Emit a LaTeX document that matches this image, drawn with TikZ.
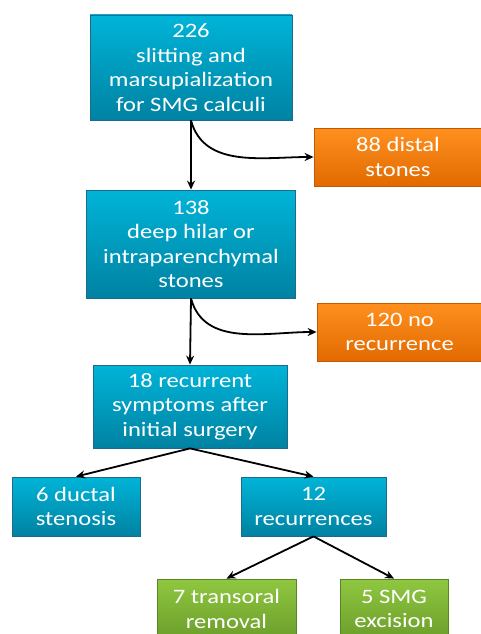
\documentclass[tikz,border=0pt]{standalone}
\usepackage{fontspec}
\setmainfont{Carlito}[FakeStretch=1.2]
\usetikzlibrary{arrows.meta}
\definecolor{bltop}{HTML}{00B4D8}
\definecolor{blbot}{HTML}{0082A2}
\definecolor{bledge}{HTML}{1E6A8A}
\definecolor{ortop}{HTML}{FF901F}
\definecolor{orbot}{HTML}{E26A00}
\definecolor{oredge}{HTML}{C25A00}
\definecolor{gntop}{HTML}{8FC740}
\definecolor{gnbot}{HTML}{6C9E2B}
\definecolor{gnedge}{HTML}{5A8424}
\tikzset{
bx/.style={draw=bledge,line width=0.8pt,top color=bltop,bottom color=blbot,text=white,align=center,inner sep=0pt,font=\fontsize{20.5}{24.5}\selectfont},
obx/.style={bx,draw=oredge,top color=ortop,bottom color=orbot},
gbx/.style={bx,draw=gnedge,top color=gntop,bottom color=gnbot},
ar/.style={-{Stealth[length=9pt,width=8pt]},line width=1.8pt}
}
\begin{document}
\begin{tikzpicture}[x=1pt,y=-1pt]
\useasboundingbox (0,0) rectangle (481,634);
\clip (0,0) rectangle (481,634);
\node[bx,minimum width=202pt,minimum height=105pt](n226)at(191,67.5){226\\slitting and\\marsupialization\\for SMG calculi};
\node[obx,minimum width=168pt,minimum height=58pt](n88)at(398,157){88 distal\\stones};
\node[bx,minimum width=209pt,minimum height=108pt](n138)at(191,244){138\\deep hilar or\\intraparenchymal\\stones};
\node[obx,minimum width=165pt,minimum height=58pt](n120)at(399.5,332){120 no\\recurrence};
\node[bx,minimum width=194pt,minimum height=83pt](n18)at(190,406.5){18 recurrent\\symptoms after\\initial surgery};
\node[bx,minimum width=128pt,minimum height=59pt](n6)at(76,506.5){6 ductal\\stenosis};
\node[bx,minimum width=145pt,minimum height=59pt](n12)at(313.5,506.5){12\\recurrences};
\node[gbx,minimum width=139pt,minimum height=60pt](n7)at(226.5,609){7 transoral\\removal};
\node[gbx,minimum width=108pt,minimum height=60pt](n5)at(394,609){5 SMG\\excision};
\draw[ar](n226.south)--(n138.north);
\draw[ar](n226.south)to[out=-75,in=180](n88.west);
\draw[ar](n138.south)--(n18.north);
\draw[ar](n138.south)to[out=-75,in=180](n120.west);
\draw[ar](n18.south)--(n6.north);
\draw[ar](n18.south)--(n12.north);
\draw[ar](n12.south)--(n7.north);
\draw[ar](n12.south)--(n5.north);
\end{tikzpicture}
\end{document}
